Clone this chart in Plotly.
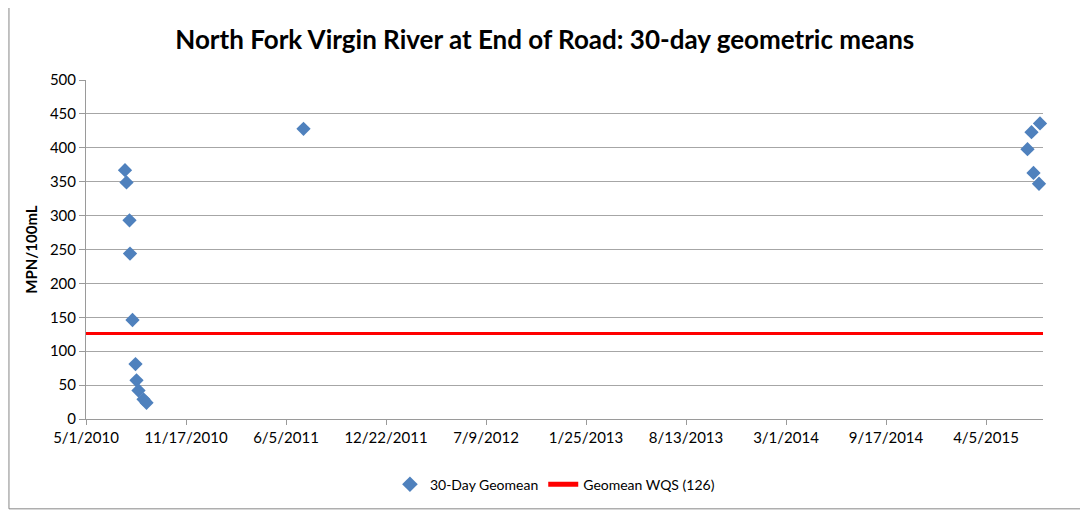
import plotly.graph_objects as go
import pandas as pd

# ---- data ----
geomean_dates = [
    "2010-07-18", "2010-07-21", "2010-07-27", "2010-07-28", "2010-08-02",
    "2010-08-08", "2010-08-10", "2010-08-14", "2010-08-24", "2010-08-30",
    "2011-07-10",
    "2015-06-27", "2015-07-05", "2015-07-09", "2015-07-20", "2015-07-22",
]
geomean_values = [
    367, 349, 293, 244, 146,
    81, 57, 42, 29, 24,
    428,
    398, 423, 363, 347, 436,
]
wqs_value = 126
x_start = "2010-05-01"
x_end = "2015-07-28"
tick_dates = ["2010-05-01", "2010-11-17", "2011-06-05", "2011-12-22", "2012-07-09",
              "2013-01-25", "2013-08-13", "2014-03-01", "2014-09-17", "2015-04-05"]
tick_labels = ["5/1/2010", "11/17/2010", "6/5/2011", "12/22/2011", "7/9/2012",
               "1/25/2013", "8/13/2013", "3/1/2014", "9/17/2014", "4/5/2015"]
y_ticks = [0, 50, 100, 150, 200, 250, 300, 350, 400, 450, 500]

FONT = "Lato, sans-serif"

fig = go.Figure()
fig.add_trace(go.Scatter(
    x=pd.to_datetime(geomean_dates), y=geomean_values, mode="markers",
    name="30-Day Geomean",
    marker=dict(symbol="diamond", size=11, color="#4F81BD"),
    cliponaxis=False,
))
fig.add_trace(go.Scatter(
    x=pd.to_datetime([x_start, x_end]), y=[wqs_value, wqs_value], mode="lines",
    name="Geomean WQS (126)",
    line=dict(color="#FF0000", width=3),
))

fig.update_layout(
    width=1080, height=504,
    margin=dict(l=78, r=45, t=72, b=92),
    paper_bgcolor="white", plot_bgcolor="white",
    font=dict(family=FONT, size=15, color="#000000"),
    title=dict(text="<b>North Fork Virgin River at End of Road: 30-day geometric means</b>",
               x=0.497, xanchor="center", y=0.937, yanchor="middle",
               font=dict(family=FONT, size=26, color="#000000")),
    showlegend=True,
    legend=dict(orientation="h", x=0.49, xanchor="center", y=-0.19, yanchor="middle",
                font=dict(family=FONT, size=14), itemwidth=30, tracegroupgap=0,
                itemsizing="constant"),
    xaxis=dict(
        type="date", range=[x_start, x_end],
        tickvals=pd.to_datetime(tick_dates), ticktext=tick_labels,
        showgrid=False, showline=True, linecolor="#9A9A9A", linewidth=1,
        ticks="outside", ticklen=5, tickcolor="#9A9A9A",
        tickfont=dict(family=FONT, size=15), zeroline=False,
    ),
    yaxis=dict(
        range=[0, 500], tickvals=y_ticks,
        showgrid=True, gridcolor="#A6A6A6", gridwidth=1,
        showline=True, linecolor="#9A9A9A", linewidth=1,
        ticks="outside", ticklen=6, tickcolor="#9A9A9A",
        tickfont=dict(family=FONT, size=15), zeroline=False,
        title=dict(text="<b>MPN/100mL</b>", font=dict(family=FONT, size=15), standoff=8),
    ),
    shapes=[dict(type="rect", xref="paper", yref="paper",
                 x0=-0.0805, x1=1.06, y0=-0.265, y1=1.232,
                 line=dict(color="#868686", width=1), fillcolor="rgba(0,0,0,0)",
                 layer="below")],
)

fig.write_html("out.html")
